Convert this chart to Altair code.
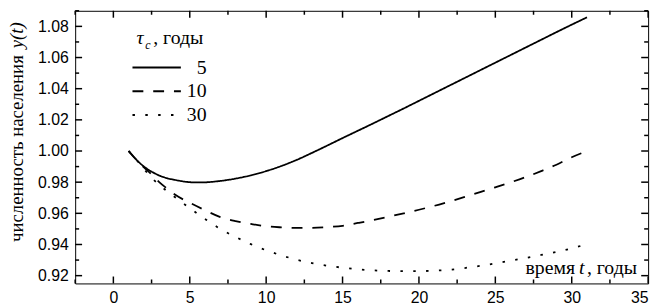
import altair as alt
import pandas as pd

# ---- data ----
t_5 = [1, 1.5, 2, 2.5, 3, 3.5, 4, 4.5, 5, 5.5, 6, 7, 8, 9, 10, 11, 12, 13, 14, 15,
       16, 17, 18, 19, 20, 21, 22, 23, 24, 25, 26, 27, 28, 29, 30, 31]
v_5 = [1.000, 0.9945, 0.9900, 0.9868, 0.9843, 0.9826, 0.9815, 0.9806, 0.9800, 0.9798,
       0.9799, 0.9808, 0.9823, 0.9844, 0.9871, 0.9904, 0.9943, 0.9988, 1.0035, 1.0083,
       1.0130, 1.0177, 1.0225, 1.0273, 1.0322, 1.0371, 1.0420, 1.0469, 1.0518, 1.0567,
       1.0616, 1.0665, 1.0714, 1.0763, 1.0811, 1.0858]

t_10 = [1, 1.5, 2, 2.5, 3, 3.5, 4, 5, 6, 7, 8, 9, 10, 11, 12, 13, 14, 15, 16, 17, 18,
        19, 20, 21, 22, 23, 24, 25, 26, 27, 28, 29, 30, 31]
v_10 = [1.000, 0.9945, 0.9895, 0.9850, 0.9800, 0.9760, 0.9722, 0.9668, 0.9620, 0.9576,
        0.9550, 0.9532, 0.9517, 0.9510, 0.9506, 0.9507, 0.9512, 0.9520, 0.9538, 0.9557,
        0.9578, 0.9600, 0.9623, 0.9648, 0.9676, 0.9705, 0.9736, 0.9767, 0.9799, 0.9833,
        0.9871, 0.9912, 0.9960, 1.0000]

t_30 = [1, 1.5, 2, 2.5, 3, 3.5, 4, 5, 6, 7, 8, 9, 10, 11, 12, 13, 14, 15, 16, 17, 18,
        19, 20, 21, 22, 23, 24, 25, 26, 27, 28, 29, 30, 31]
v_30 = [1.000, 0.9945, 0.9885, 0.9828, 0.9783, 0.9743, 0.9706, 0.9633, 0.9564, 0.9500,
        0.9448, 0.9402, 0.9363, 0.9330, 0.9302, 0.9280, 0.9264, 0.9251, 0.9241, 0.9234,
        0.9230, 0.9229, 0.9229, 0.9232, 0.9238, 0.9249, 0.9263, 0.9279, 0.9296, 0.9314,
        0.9333, 0.9353, 0.9375, 0.9403]

series_names = ["5", "10", "30"]

x_major = [0, 5, 10, 15, 20, 25, 30, 35]
x_minor = [-2.5, 2.5, 7.5, 12.5, 17.5, 22.5, 27.5, 32.5]
y_major = [0.92, 0.94, 0.96, 0.98, 1.00, 1.02, 1.04, 1.06, 1.08]
y_minor = [0.93, 0.95, 0.97, 0.99, 1.01, 1.03, 1.05, 1.07, 1.09]

rows = []
for name, ts, vs in zip(series_names, [t_5, t_10, t_30], [v_5, v_10, v_30]):
    for t, v in zip(ts, vs):
        rows.append({"t": t, "v": v, "s": name})
df = pd.DataFrame(rows)

W, H = 580, 276
MAJOR, MINOR = 7, 4
xs = alt.Scale(domain=[-2.5, 35], nice=False, zero=False)
ys = alt.Scale(domain=[0.915, 1.09], nice=False, zero=False)

SANS = "Liberation Sans"
SERIF = "Liberation Serif"

x_axis = alt.Axis(orient="bottom", values=x_major, ticks=False, domain=False, grid=False,
                  title=None, labelFont=SANS, labelFontSize=16, labelColor="black",
                  labelPadding=6, format="d", labelOverlap=False)
y_axis = alt.Axis(orient="left", values=y_major, ticks=False, domain=False, grid=False,
                  title=None, labelFont=SANS, labelFontSize=16, labelColor="black",
                  labelPadding=7, format=".2f", labelOverlap=False)

lines = alt.Chart(df).mark_line(color="black", strokeWidth=1.8, interpolate="monotone").encode(
    x=alt.X("t:Q", scale=xs, axis=x_axis),
    y=alt.Y("v:Q", scale=ys, axis=y_axis),
    strokeDash=alt.StrokeDash(
        "s:N",
        scale=alt.Scale(domain=series_names, range=[[1, 0], [11, 10], [2.5, 10.5]]),
        legend=alt.Legend(orient="none", legendX=69, legendY=44, title=None,
                          labelFont=SERIF, labelFontSize=20, labelColor="black",
                          labelAlign="right", labelOffset=37, symbolType="M-2,0H2",
                          symbolSize=600, symbolStrokeWidth=2, symbolStrokeColor="black",
                          padding=0, rowPadding=0),
    ),
)


# inward-pointing axis ticks, placed through the shared scales
def xticks(values, ymid, size):
    return alt.Chart(pd.DataFrame({"t": values})).mark_tick(
        color="black", thickness=1.5, size=size, opacity=1
    ).encode(x=alt.X("t:Q", scale=xs, axis=x_axis), y=alt.value(ymid))


def yticks(values, xmid, size):
    return alt.Chart(pd.DataFrame({"v": values})).mark_tick(
        color="black", thickness=1.5, size=size, opacity=1
    ).encode(y=alt.Y("v:Q", scale=ys, axis=y_axis), x=alt.value(xmid))


ticks = [
    xticks(x_major, H - MAJOR / 2, MAJOR), xticks(x_minor, H - MINOR / 2, MINOR),
    xticks(x_major, MAJOR / 2, MAJOR), xticks(x_minor, MINOR / 2, MINOR),
    yticks(y_major, MAJOR / 2, MAJOR), yticks(y_minor, MINOR / 2, MINOR),
    yticks(y_major, W - MAJOR / 2, MAJOR), yticks(y_minor, W - MINOR / 2, MINOR),
]


def txt(text, x, y, size=20, style="normal", align="left", angle=0):
    return alt.Chart(alt.Data(values=[{"k": 0}])).mark_text(
        text=text, font=SERIF, fontSize=size, fontStyle=style, align=align,
        baseline="alphabetic", angle=angle, color="black"
    ).encode(x=alt.value(x), y=alt.value(y))


texts = [
    # legend title
    txt("τ", 62, 34, style="italic"),
    txt("c", 71, 39, size=12, style="italic"),
    txt(", годы", 79, 34),
    # x axis title
    txt("время", 506, 266, align="right"),
    txt("t", 510, 266, style="italic"),
    txt(", годы", 518, 266),
    # y axis title
    txt("численность населения", -53, 234, size=19, angle=270),
    txt("y(t)", -53, 38, size=19, style="italic", angle=270),
]

chart = alt.layer(lines, *ticks, *texts).properties(
    width=W, height=H,
    padding={"left": 68, "top": 1, "right": 10, "bottom": 20},
    autosize=alt.AutoSizeParams(type="none"),
).configure_view(stroke="black", strokeWidth=1)

chart.save("out.html", embed_options={"renderer": "svg", "actions": False})
